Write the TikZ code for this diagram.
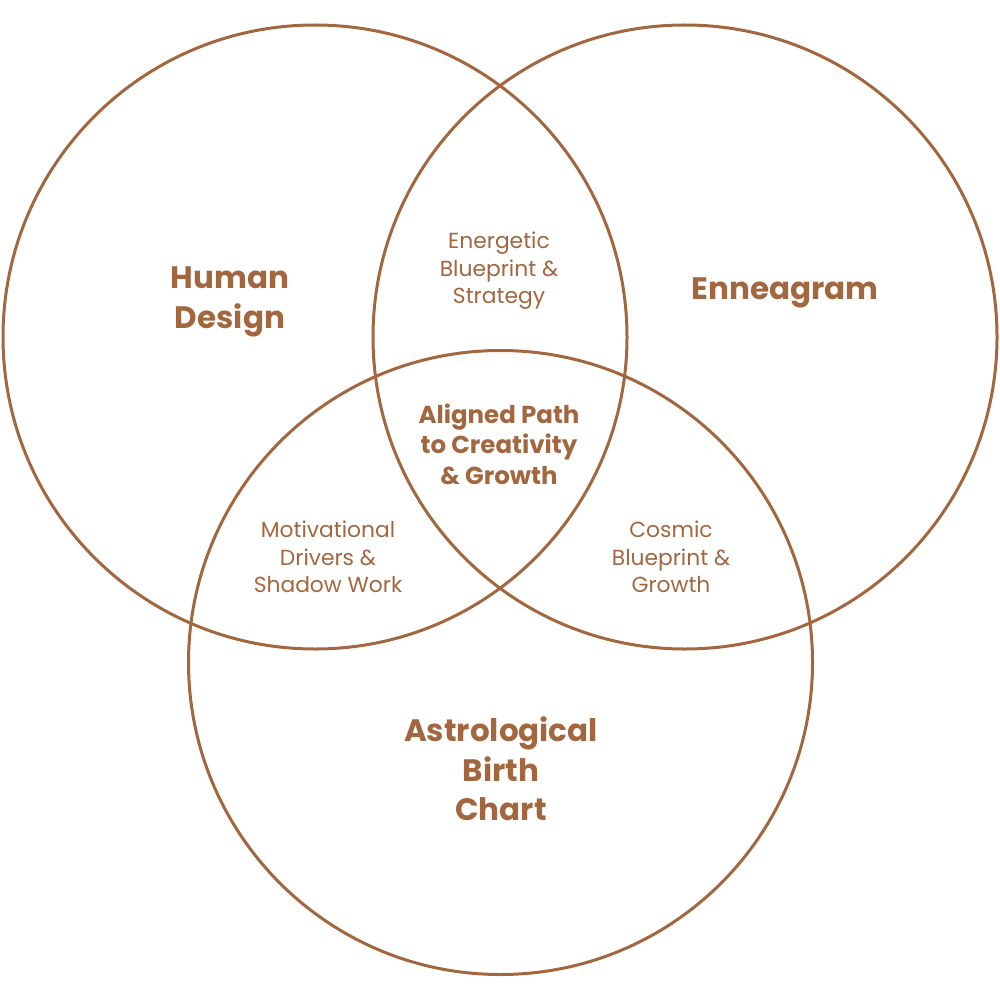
\documentclass[tikz,border=0pt]{standalone}
\usepackage{fontspec}
\setmainfont{Poppins}
\definecolor{brn}{HTML}{A2673F}
\begin{document}
\begin{tikzpicture}[x=1pt,y=-1pt,
  ring/.style={draw=brn,line width=3pt},
  title/.style={text=brn,align=center,font=\bfseries\fontsize{31}{39.5}\selectfont},
  core/.style={text=brn,align=center,font=\bfseries\fontsize{24.5}{30.5}\selectfont},
  lbl/.style={text=brn,align=center,font=\fontsize{21.8}{27.5}\selectfont}]
\useasboundingbox (0,0) rectangle (1000,1000);
\draw[ring] (315,337) circle (312);
\draw[ring] (685,337) circle (312);
\draw[ring] (500.5,662.5) circle (312);
\node[title] (hd) at (230,302) {Human\\Design};
\node[title] (en) at (785,293) {Enneagram};
\node[title] (ab) at (501,769) {Astrological\\Birth\\Chart};
\node[lbl] (eb) at (499,271) {Energetic\\Blueprint \&\\Strategy};
\node[core] (ap) at (499,444) {Aligned Path\\to Creativity\\\& Growth};
\node[lbl] (md) at (328,557) {Motivational\\Drivers \&\\Shadow Work};
\node[lbl] (cb) at (671,557) {Cosmic\\Blueprint \&\\Growth};
\end{tikzpicture}
\end{document}
